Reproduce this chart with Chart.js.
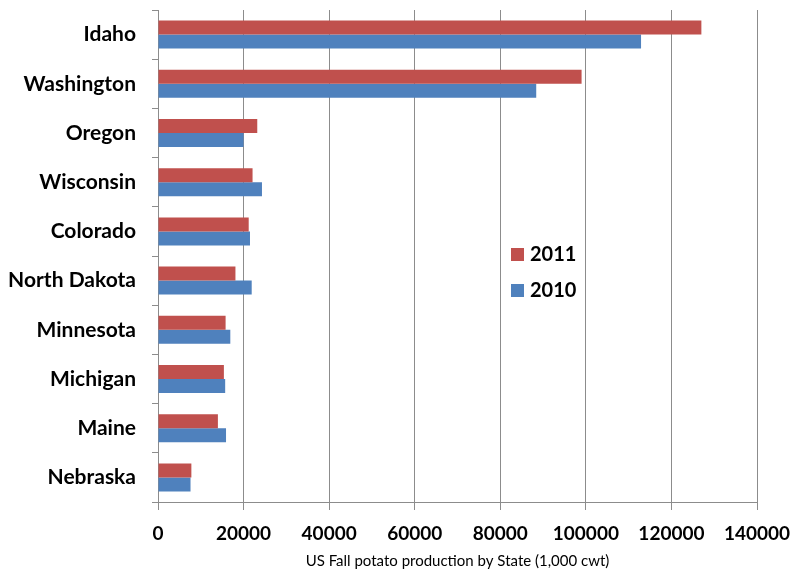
<!DOCTYPE html>
<html>
<head>
<meta charset="utf-8">
<script src="https://cdn.jsdelivr.net/npm/chart.js@4/dist/chart.umd.min.js"></script>
<style>
  html, body { margin: 0; padding: 0; background: #fff; }
  #wrap { width: 800px; height: 578px; position: relative; }
</style>
</head>
<body>
<div id="wrap"><canvas id="potatoChart"></canvas></div>
<script>
const states = ["Idaho", "Washington", "Oregon", "Wisconsin", "Colorado",
    "North Dakota", "Minnesota", "Michigan", "Maine", "Nebraska"];
const values2011 = [127000, 99000, 23200, 22100, 21200, 18100, 15800, 15400, 14000, 7800];
const values2010 = [112900, 88400, 20000, 24300, 21500, 21900, 16900, 15700, 15900, 7600];
const xTicks = [0, 20000, 40000, 60000, 80000, 100000, 120000, 140000];
const axisTitle = "US Fall potato production by State (1,000 cwt)";

/* legend drawn inside the plot, like the original */
const insideLegend = {
    id: "insideLegend",
    afterDatasetsDraw(chart, args, opts) {
        const ctx = chart.ctx;
        ctx.save();
        ctx.font = "bold 20px Lato";
        ctx.textBaseline = "middle";
        chart.data.datasets.forEach((ds, i) => {
            const y = opts.y + i * opts.gap;
            ctx.fillStyle = ds.backgroundColor;
            ctx.fillRect(opts.x, y - 6, 13, 13);
            ctx.fillStyle = "#000";
            ctx.fillText(ds.label, opts.x + 19, y + 1);
        });
        ctx.restore();
    }
};

new Chart(document.getElementById("potatoChart"), {
    type: "bar",
    data: {
        labels: states,
        datasets: [
            {
                label: "2011",
                data: values2011,
                backgroundColor: "#C0504D",
                categoryPercentage: 0.57,
                barPercentage: 1.0
            },
            {
                label: "2010",
                data: values2010,
                backgroundColor: "#4F81BD",
                categoryPercentage: 0.57,
                barPercentage: 1.0
            }
        ]
    },
    options: {
        indexAxis: "y",
        responsive: true,
        maintainAspectRatio: false,
        animation: false,
        layout: {
            padding: { top: 10, right: 43, left: 0, bottom: 0 }
        },
        scales: {
            x: {
                min: 0,
                max: 140000,
                afterBuildTicks: (scale) => {
                    scale.ticks = xTicks.map(v => ({ value: v }));
                },
                afterFit: (scale) => {
                    scale.height = 76;
                    scale.paddingRight = 0;
                    scale.paddingLeft = 0;
                },
                ticks: {
                    color: "#000",
                    font: { family: "Lato", size: 19, weight: "bold" },
                    padding: 12,
                    maxRotation: 0,
                    autoSkip: false,
                    callback: (v) => String(v)
                },
                grid: {
                    color: "#8c8c8c",
                    tickLength: 8
                },
                border: { color: "#8c8c8c" },
                title: {
                    display: true,
                    text: axisTitle,
                    color: "#000",
                    font: { family: "Lato", size: 15 },
                    padding: { top: 4, bottom: 8 }
                }
            },
            y: {
                afterFit: (scale) => {
                    scale.width = 158;
                    scale.paddingTop = 0;
                    scale.paddingBottom = 0;
                },
                ticks: {
                    color: "#000",
                    font: { family: "Lato", size: 21, weight: "bold" },
                    padding: 16
                },
                grid: {
                    drawOnChartArea: false,
                    color: "#8c8c8c",
                    tickLength: 6
                },
                border: { color: "#8c8c8c" }
            }
        },
        plugins: {
            legend: { display: false },
            tooltip: { enabled: false },
            insideLegend: { x: 511, y: 254, gap: 36 }
        }
    },
    plugins: [insideLegend]
});
</script>
</body>
</html>
